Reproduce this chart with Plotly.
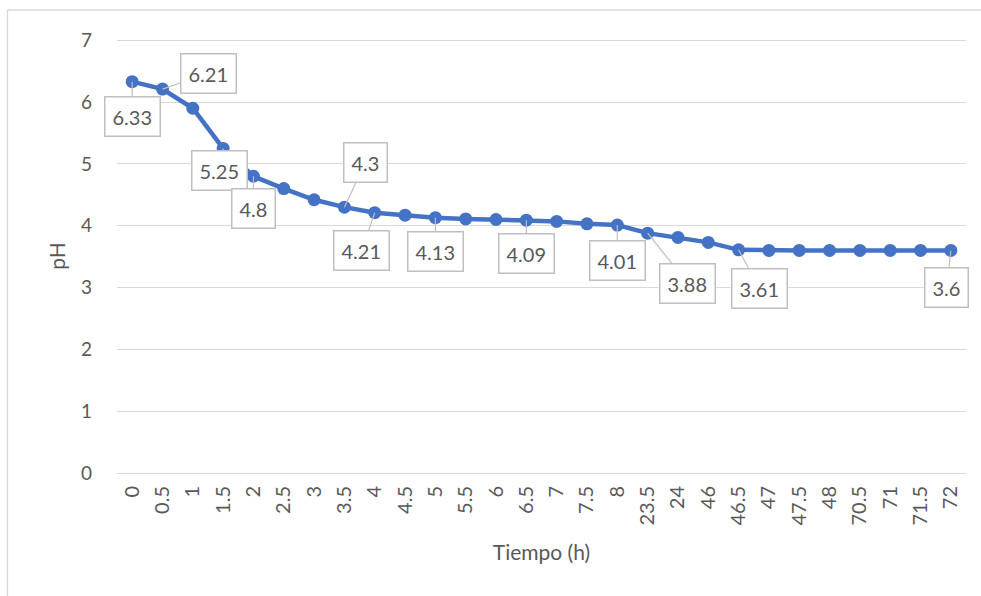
import plotly.graph_objects as go

tiempo = ["0", "0.5", "1", "1.5", "2", "2.5", "3", "3.5", "4", "4.5", "5", "5.5", "6", "6.5",
          "7", "7.5", "8", "23.5", "24", "46", "46.5", "47", "47.5", "48", "70.5", "71", "71.5", "72"]
ph = [6.33, 6.21, 5.90, 5.25, 4.80, 4.60, 4.42, 4.30, 4.21, 4.17, 4.13, 4.11, 4.10, 4.09,
      4.07, 4.03, 4.01, 3.88, 3.81, 3.73, 3.61, 3.60, 3.60, 3.60, 3.60, 3.60, 3.60, 3.60]

# labelled points and callout offsets (pixels, box centre relative to point)
label_cats = ["0", "0.5", "1.5", "2", "3.5", "4", "5", "6.5", "8", "23.5", "46.5", "72"]
label_ax = [0, 46, -4, 0, 21, -13, 0, 0, 0, 40, 21, -4]
label_ay = [35, -16, 22, 32, -45, 38, 34, 33, 35, 50, 39, 37]

FONT = "Lato, 'Open Sans', sans-serif"
GRAY_TXT = "#595959"

fig = go.Figure()
fig.add_trace(go.Scatter(
    x=tiempo, y=ph, mode="lines+markers",
    line=dict(color="#4472C4", width=4.5),
    marker=dict(color="#4472C4", size=13),
    showlegend=False, hoverinfo="x+y",
))

annotations = []
for c, ax, ay in zip(label_cats, label_ax, label_ay):
    i = tiempo.index(c)
    v = ph[i]
    annotations.append(dict(
        x=i, y=v, xref="x", yref="y", text=f"{v:g}",
        showarrow=True, arrowhead=0, arrowwidth=1.2, arrowcolor="#BFBFBF",
        ax=ax, ay=ay, standoff=0, startstandoff=0,
        bgcolor="white", bordercolor="#BFBFBF", borderwidth=1.5, borderpad=7,
        font=dict(family=FONT, size=20, color=GRAY_TXT),
    ))

fig.update_layout(
    width=981, height=596,
    margin=dict(l=117, r=15, t=39, b=123),
    paper_bgcolor="white", plot_bgcolor="white",
    font=dict(family=FONT, size=16, color=GRAY_TXT),
    xaxis=dict(
        type="category", tickangle=-90, showgrid=False, zeroline=False,
        showline=False, ticks="", tickfont=dict(size=20, color=GRAY_TXT),
        range=[-0.5, len(tiempo) - 0.5], ticklabelstandoff=8,
        title=dict(text="Tiempo (h)", font=dict(size=21, color=GRAY_TXT), standoff=20),
    ),
    yaxis=dict(
        range=[0, 7.02], dtick=1, showgrid=True, gridcolor="#D9D9D9", gridwidth=1.3,
        zeroline=True, zerolinecolor="#D9D9D9", zerolinewidth=1.3, showline=False, ticks="",
        tickfont=dict(size=19, color=GRAY_TXT), ticklabelstandoff=24,
        title=dict(text="pH", font=dict(size=21, color=GRAY_TXT), standoff=9),
    ),
    annotations=annotations,
    shapes=[
        dict(type="line", xref="paper", yref="paper", x0=-0.129, x1=1.02, y0=1.0668, y1=1.0668,
             line=dict(color="#D9D9D9", width=1.3)),
        dict(type="line", xref="paper", yref="paper", x0=-0.129, x1=-0.129, y0=1.0668, y1=-0.3,
             line=dict(color="#D9D9D9", width=1.3)),
    ],
)

fig.write_html("out.html")
